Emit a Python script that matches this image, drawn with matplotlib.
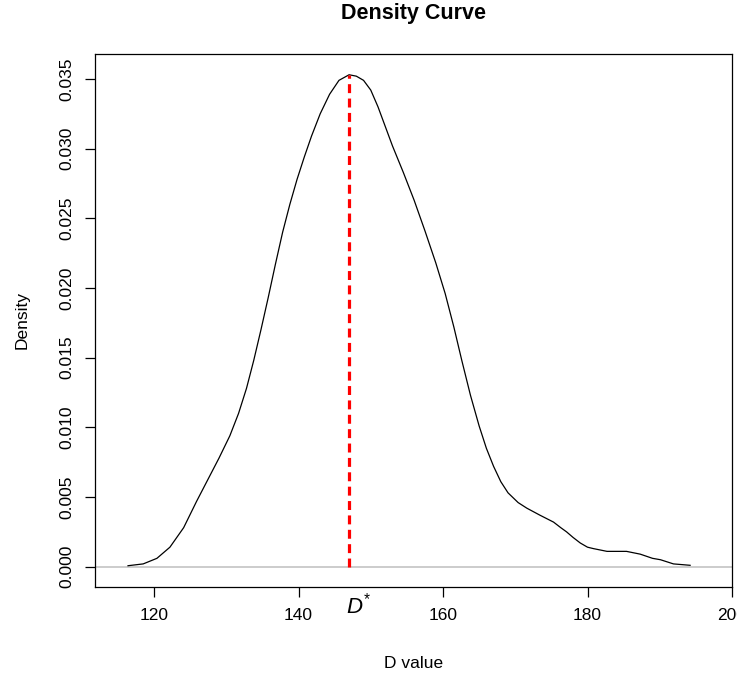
import matplotlib
matplotlib.use("Agg")
import matplotlib.pyplot as plt

# density curve
d_value = [116.4, 118.5, 120.4, 122.2, 124.1, 125.9, 127.5, 129.0, 130.5, 131.7,
           132.8, 133.8, 134.8, 135.8, 136.8, 137.8, 138.8, 139.8, 140.8, 141.8,
           143.0, 144.3, 145.6, 147.0, 148.0, 149.0, 150.0, 151.0, 152.0, 153.0,
           154.5, 156.0, 157.5, 159.0, 160.3, 161.5, 162.6, 163.8, 165.0, 166.0,
           167.0, 168.0, 169.0, 170.4, 171.6, 173.4, 175.3, 176.3, 177.1, 178.0,
           179.0, 180.0, 180.8, 182.7, 185.4, 187.3, 189.0, 190.1, 191.9, 194.2]
density = [0.00007, 0.0002, 0.0006, 0.0014, 0.0028, 0.0047, 0.0063, 0.0078, 0.0094, 0.0110,
           0.0128, 0.0148, 0.0170, 0.0193, 0.0217, 0.0240, 0.0260, 0.0278, 0.0294, 0.0309,
           0.0325, 0.0339, 0.0349, 0.0353, 0.0352, 0.0349, 0.0342, 0.0330, 0.0316, 0.0302,
           0.0283, 0.0263, 0.0241, 0.0218, 0.0196, 0.0172, 0.0148, 0.0123, 0.0101, 0.0085,
           0.0072, 0.0061, 0.0053, 0.0046, 0.0042, 0.0037, 0.0032, 0.0028, 0.0025, 0.0021,
           0.0017, 0.0014, 0.0013, 0.0011, 0.0011, 0.0009, 0.0006, 0.0005, 0.0002, 0.0001]
d_star = 147.0
d_star_height = 0.0353

x_ticks = [120, 140, 160, 180, 200]
y_ticks = [0.000, 0.005, 0.010, 0.015, 0.020, 0.025, 0.030, 0.035]
y_tick_labels = ["0.000", "0.005", "0.010", "0.015", "0.020", "0.025", "0.030", "0.035"]

plt.rcParams['font.family'] = ['Liberation Sans', 'DejaVu Sans']
plt.rcParams['mathtext.fontset'] = 'custom'
plt.rcParams['mathtext.it'] = 'Liberation Sans:italic'
plt.rcParams['mathtext.rm'] = 'Liberation Sans'

W, H = 737, 675
fig = plt.figure(figsize=(W / 100, H / 100), dpi=100)
ax = fig.add_axes([95 / W, 1 - 587 / H, (732 - 95) / W, (587 - 54) / H])

ax.axhline(0, color="#bebebe", lw=1.1, zorder=1)
ax.plot(d_value, density, color="black", lw=0.9, zorder=2)
ax.plot([d_star, d_star], [0, d_star_height], color="red", lw=2.3,
        linestyle=(0, (2.8, 1.7)), zorder=3)

ax.set_xlim(111.83, 200.0)
ax.set_ylim(-0.001457, 0.03679)
ax.set_xticks(x_ticks)
ax.set_xticklabels([str(t) for t in x_ticks])
ax.set_yticks(y_ticks)
ax.set_yticklabels(y_tick_labels, rotation=90, va="center")
ax.tick_params(direction="out", length=7.2, width=0.9, labelsize=12.5, pad=8)
for s in ax.spines.values():
    s.set_linewidth(0.9)

fig.text(413.5 / W, 1 - 14 / H, "Density Curve", ha="center", va="center",
         fontsize=15.5, fontweight="bold")
fig.text(414 / W, 1 - 663 / H, "D value", ha="center", va="center", fontsize=12.5)
fig.text(22 / W, 1 - 320 / H, "Density", ha="center", va="center",
         rotation=90, fontsize=12.5)
fig.text(359 / W, 1 - 606 / H, r"$D^{*}$", ha="center", va="center", fontsize=16)

fig.savefig("out.png", dpi=100)
